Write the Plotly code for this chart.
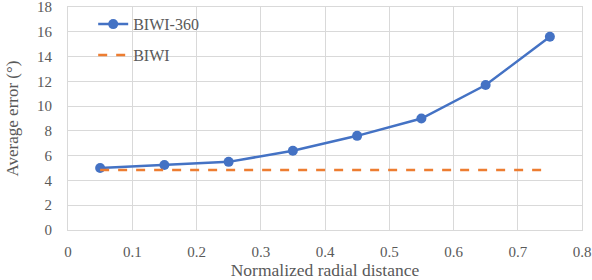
import plotly.graph_objects as go

x_vals = [0.05, 0.15, 0.25, 0.35, 0.45, 0.55, 0.65, 0.75]
biwi360 = [5.0, 5.25, 5.5, 6.4, 7.6, 9.0, 11.7, 15.6]
biwi = [4.85] * len(x_vals)

font = "Liberation Serif"
col = "#595959"

fig = go.Figure()
fig.add_trace(go.Scatter(x=x_vals, y=biwi360, mode="lines+markers", name="BIWI-360",
                         line=dict(color="#4472C4", width=2.5),
                         marker=dict(size=10, color="#4472C4"), legendgroup="a"))
fig.add_trace(go.Scatter(x=x_vals, y=biwi, mode="lines", name="BIWI",
                         line=dict(color="#ED7D31", width=2.5, dash="dash"), legendgroup="b"))

fig.update_layout(
    width=592, height=280,
    margin=dict(l=68, r=10, t=7, b=50),
    paper_bgcolor="white", plot_bgcolor="white",
    font=dict(family=font, size=15, color=col),
    showlegend=True,
    legend=dict(x=0.049, y=0.999, xanchor="left", yanchor="top", bgcolor="rgba(0,0,0,0)",
                font=dict(family=font, size=16, color=col), tracegroupgap=7),
    xaxis=dict(range=[0, 0.8], dtick=0.1, showgrid=True, gridcolor="#D9D9D9", gridwidth=1,
               zeroline=False, showline=True, linecolor="#D9D9D9", mirror=True, automargin=False,
               ticklabeloverflow="allow", tickfont=dict(family=font, size=15, color=col),
               ticklabelstandoff=8,
               ticks="", title=dict(text="Normalized radial distance", standoff=16,
               font=dict(family=font, size=17.5, color=col))),
    yaxis=dict(range=[0, 18], dtick=2, showgrid=True, gridcolor="#D9D9D9", gridwidth=1,
               zeroline=False, showline=True, linecolor="#D9D9D9", mirror=True, automargin=False,
               ticklabeloverflow="allow", tickfont=dict(family=font, size=15, color=col),
               ticklabelstandoff=12,
               ticks="", title=dict(text="Average error (°)", standoff=14,
               font=dict(family=font, size=17, color=col))),
)

fig.write_html("out.html", config={"displayModeBar": False},
               post_script="document.body.style.margin='0';document.body.style.overflow='hidden';")
